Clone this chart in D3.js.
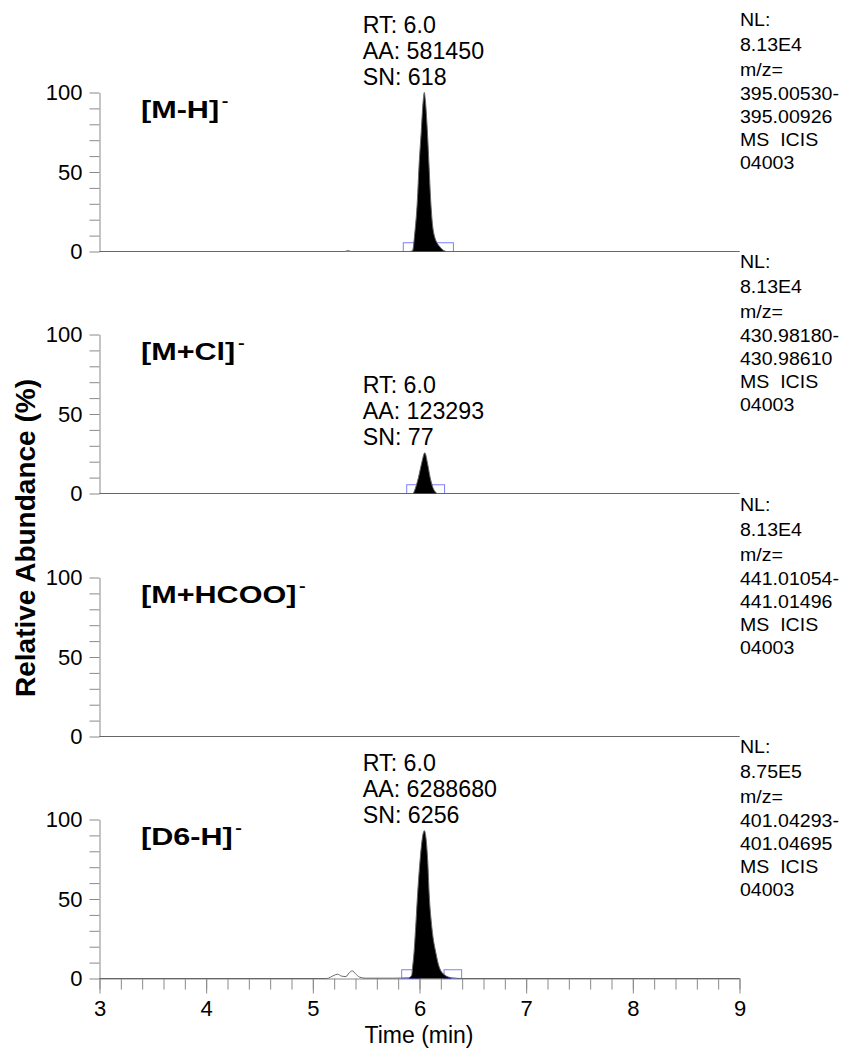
<!DOCTYPE html>
<html><head><meta charset="utf-8">
<script src="https://cdn.jsdelivr.net/npm/d3@7/dist/d3.min.js"></script>
<style>
body{margin:0;background:#fff}
svg{display:block}
text{font-family:"Liberation Sans",Arial,sans-serif;fill:#000}
</style>
</head><body>
<svg id="c" width="849" height="1050"></svg>
<script>
// ---------- data ----------
const timeTicks = [3,4,5,6,7,8,9];
const yTickLabels = [0,50,100];
const panelLabels = ["[M-H]","[M+Cl]","[M+HCOO]","[D6-H]"];
const nlValues = ["8.13E4","8.13E4","8.13E4","8.75E5"];
const mzLow = ["395.00530-","430.98180-","441.01054-","401.04293-"];
const mzHigh = ["395.00926","430.98610","441.01496","401.04695"];
const scanInfo = ["MS  ICIS","MS  ICIS","MS  ICIS","MS  ICIS"];
const scanNum = ["04003","04003","04003","04003"];
const rtValues = ["6.0","6.0",null,"6.0"];
const aaValues = ["581450","123293",null,"6288680"];
const snValues = ["618","77",null,"6256"];

const trace1Time = [3.0,5.30,5.33,5.36,5.90,5.935,5.955,5.98,5.995,6.015,6.035,6.045,6.055,6.075,6.09,6.105,6.135,6.19,6.255,9.0];
const trace1Abund = [0,0,0.6,0,0,0.5,11,32,53,74,95,100,95,74,53,32,11,3,0,0];
const trace2Time = [3.0,5.94,5.96,5.99,6.02,6.05,6.075,6.10,6.13,6.17,9.0];
const trace2Abund = [0,0,3,10,19,25.6,19,10,3,0,0];
const trace3Time = [3.0,9.0];
const trace3Abund = [0,0];
const trace4Time = [3.0,5.13,5.20,5.23,5.27,5.31,5.34,5.37,5.40,5.44,5.49,5.75,5.90,5.927,5.935,5.948,5.964,5.983,6.005,6.045,6.077,6.09,6.116,6.155,6.186,6.24,6.30,6.40,9.0];
const trace4Abund = [0,0,2,2.7,1.5,1.2,3.5,4.8,3,0.8,0.2,0.2,0.5,2,7,15.6,32,54,74,93,74,54,32,15.6,7,2,0.5,0,0];

const fillStart = [5.90,5.94,null,5.90];
const fillEnd = [6.26,6.17,null,6.30];
const boxLeftStart = [5.848,5.88,null,5.833];
const boxRightStart = [6.153,6.07,null,6.23];

const traces = [
  {t:trace1Time,a:trace1Abund},
  {t:trace2Time,a:trace2Abund},
  {t:trace3Time,a:trace3Abund},
  {t:trace4Time,a:trace4Abund}
];

// ---------- layout ----------
const svg = d3.select("#c");
const grey = "#8a8a8a";
const x = d3.scaleLinear().domain([3,9]).range([99.5,739.5]);
const zeroY = [251,493,736,978];
const plotH = 159;
const boxW = 0.165, boxH = 5.5;

function stext(g, px, py, str, size, weight, sx, anchor){
  const gg = g.append("g").attr("transform",`translate(${px},${py}) scale(${sx},1)`);
  return gg.append("text").attr("x",0).attr("y",0)
    .attr("font-size",size).attr("font-weight",weight||"normal")
    .attr("text-anchor",anchor||"start").text(str);
}

zeroY.forEach((z,i)=>{
  const y = d3.scaleLinear().domain([0,100]).range([z+0.5, z+0.5-plotH]);
  const g = svg.append("g");

  // y axis
  const ya = d3.axisLeft(y).tickValues(d3.range(0,101,10)).tickSize(10).tickSizeOuter(0).tickPadding(7)
    .tickFormat(d=> yTickLabels.includes(d) ? d : "");
  const yg = g.append("g").attr("transform",`translate(${x(3)},0)`).call(ya);
  yg.select(".domain").attr("stroke",grey);
  yg.selectAll(".tick line").attr("stroke",grey);
  yg.selectAll(".tick text").attr("font-size",22).attr("font-family","Liberation Sans, Arial, sans-serif").attr("fill","#000");

  // x baseline / axis
  if(i<3){
    g.append("line").attr("x1",x(3)).attr("x2",x(9)).attr("y1",z+0.5).attr("y2",z+0.5).attr("stroke",grey);
  } else {
    const minor = d3.range(0,31).map(k=>3+k*0.2);
    const xm = d3.axisBottom(x).tickValues(minor).tickSize(11).tickSizeOuter(0).tickFormat("");
    const xmg = g.append("g").attr("transform",`translate(0,${z+0.5})`).call(xm);
    xmg.select(".domain").attr("stroke",grey);
    xmg.selectAll(".tick line").attr("stroke",grey);
    const xa = d3.axisBottom(x).tickValues(timeTicks).tickSize(15).tickSizeOuter(0).tickPadding(7).tickFormat(d3.format("d"));
    const xag = g.append("g").attr("transform",`translate(0,${z+0.5})`).call(xa);
    xag.select(".domain").remove();
    xag.selectAll(".tick line").attr("stroke",grey);
    xag.selectAll(".tick text").attr("font-size",22).attr("font-family","Liberation Sans, Arial, sans-serif").attr("fill","#000");
  }

  const tr = traces[i];
  const pts = tr.t.map((t,k)=>({t, a:tr.a[k]}));

  // integration markers
  if(boxLeftStart[i]!==null){
    [boxLeftStart[i], boxRightStart[i]].forEach(b=>{
      g.append("rect").attr("x",x(b)).attr("y",y(boxH))
        .attr("width",x(b+boxW)-x(b)).attr("height",y(0)-y(boxH))
        .attr("fill","none").attr("stroke","#7d7dff").attr("stroke-width",1);
    });
  }
  // filled peak
  if(fillStart[i]!==null){
    const fp = pts.filter(p=>p.t>=fillStart[i] && p.t<=fillEnd[i]);
    g.append("path").datum(fp)
      .attr("d", d3.area().x(p=>x(p.t)).y0(y(0)).y1(p=>y(p.a)).curve(d3.curveMonotoneX))
      .attr("fill","#000");
  }
  // trace line
  g.append("path").datum(pts)
    .attr("d", d3.line().x(p=>x(p.t)).y(p=>y(p.a)).curve(d3.curveMonotoneX))
    .attr("fill","none").attr("stroke","#666").attr("stroke-width",1);

  // panel label
  const lbl = stext(g, 141, z-133, panelLabels[i], 23, "bold", 1.33, "start");
  lbl.append("tspan").attr("font-size",15).attr("dy",-12).attr("dx",2).text("-");

  // peak annotation
  if(rtValues[i]!==null){
    const peak = d3.max(tr.a);
    const sb = y(peak) - 8;
    stext(g, 362.7, sb-52, "RT: "+rtValues[i], 23, "normal", 1.01, "start");
    stext(g, 362.7, sb-26, "AA: "+aaValues[i], 23, "normal", 1.01, "start");
    stext(g, 362.7, sb, "SN: "+snValues[i], 23, "normal", 1.01, "start");
  }

  // right info text
  const lines = ["NL:", nlValues[i], "m/z=", mzLow[i], mzHigh[i], scanInfo[i], scanNum[i]];
  const offs = [0,25,50,74,97,120,143];
  lines.forEach((s,k)=>{
    stext(g, 740, z-225+offs[k], s, 19, "normal", 1.03, "start").style("white-space","pre");
  });
});

// axis titles
svg.append("text").attr("transform","translate(35,538) rotate(-90)")
  .attr("text-anchor","middle").attr("font-size",28).attr("font-weight","bold")
  .text("Relative Abundance (%)");
svg.append("text").attr("x",419).attr("y",1043).attr("text-anchor","middle")
  .attr("font-size",23).text("Time (min)");
</script>
</body></html>
